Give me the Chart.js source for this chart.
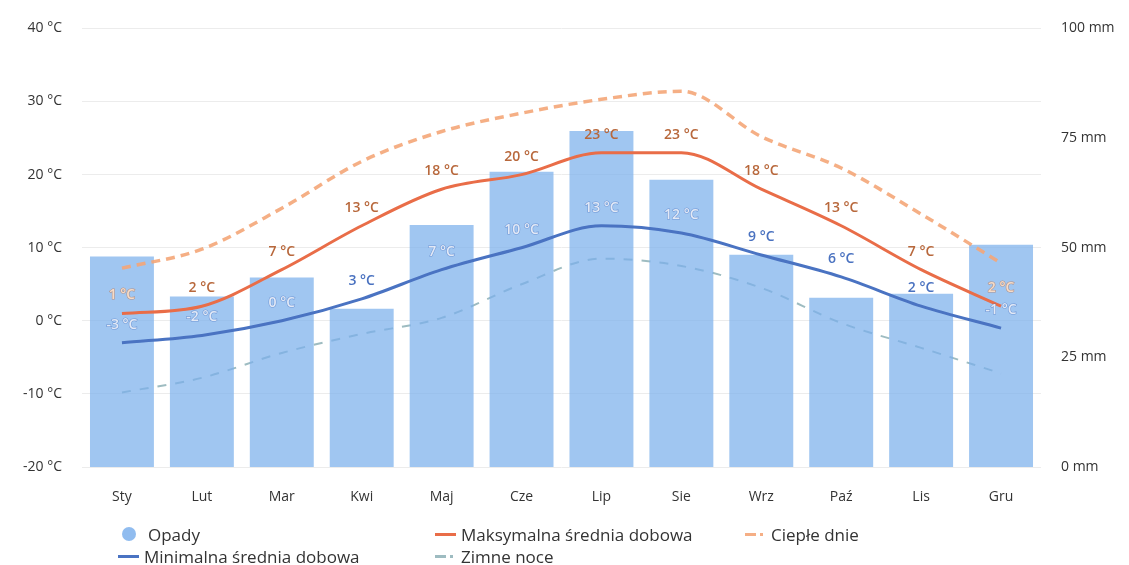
<!DOCTYPE html>
<html>
<head>
<meta charset="utf-8">
<script src="https://cdn.jsdelivr.net/npm/chart.js@4/dist/chart.umd.min.js"></script>
<style>
  html, body { margin: 0; padding: 0; background: #fff; }
  #wrap { position: relative; width: 1129px; height: 565px; }
  #chart { position: absolute; left: 0; top: 0; }
  #legend {
    position: absolute; left: 118px; top: 523px;
    display: grid; grid-template-columns: 317px 310px auto; grid-auto-rows: 22px;
    font-family: "Open Sans", sans-serif; font-size: 17px; color: #333;
  }
  .item { display: flex; align-items: center; white-space: nowrap; }
  .icon { display: inline-block; width: 21px; margin-right: 5px; }
</style>
</head>
<body>
<div id="wrap">
  <canvas id="chart" width="1129" height="565"></canvas>
  <div id="legend"></div>
</div>
<script>
// data
const months = ["Sty", "Lut", "Mar", "Kwi", "Maj", "Cze", "Lip", "Sie", "Wrz", "Paź", "Lis", "Gru"];
const opady = [48, 38.9, 43.2, 36.1, 55.2, 67.3, 76.6, 65.5, 48.4, 38.6, 39.5, 50.7];
const maxTemp = [1, 2, 7, 13, 18, 20, 23, 23, 18, 13, 7, 2];
const minTemp = [-3, -2, 0, 3, 7, 10, 13, 12, 9, 6, 2, -1];
const ciepleDnie = [7.2, 9.8, 15.4, 21.8, 25.9, 28.4, 30.3, 31.4, 25.2, 20.9, 14.6, 7.9];
const zimneNoce = [-9.8, -7.8, -4.4, -1.8, 0.4, 5.0, 8.5, 7.5, 4.5, -0.3, -3.7, -7.2];

const barColor = "rgba(124,176,236,0.72)";
const maxColor = "#e96d48";
const minColor = "#4a73c2";
const warmColor = "rgba(244,166,120,0.9)";
const coldColor = "rgba(125,165,172,0.75)";

// temperature labels above the two solid lines
const pointLabels = {
  id: "pointLabels",
  afterDatasetsDraw(chart) {
    const ctx = chart.ctx;
    const bars = chart.getDatasetMeta(0).data;
    ctx.save();
    ctx.font = "600 14px 'Open Sans', sans-serif";
    ctx.textAlign = "center";
    ctx.textBaseline = "middle";
    [[1, "#b8683c", "#f6dcc8"], [2, "#4a72c0", "#e2e9f6"]].forEach(([idx, color, light]) => {
      const meta = chart.getDatasetMeta(idx);
      const values = chart.data.datasets[idx].data;
      meta.data.forEach((pt, i) => {
        const x = pt.x;
        const y = pt.y - 18;
        const text = Math.round(values[i]) + " °C";
        const bar = bars[i];
        const inside = Math.abs(x - bar.x) < bar.width / 2 && y - 5 > bar.y;
        if (inside) {
          ctx.lineWidth = 1.2;
          ctx.strokeStyle = color;
          ctx.globalAlpha = 0.55;
          ctx.strokeText(text, x, y);
          ctx.globalAlpha = 1;
          ctx.fillStyle = light;
        } else {
          ctx.fillStyle = color;
        }
        ctx.fillText(text, x, y);
      });
    });
    ctx.restore();
  }
};

new Chart(document.getElementById("chart").getContext("2d"), {
  data: {
    labels: months,
    datasets: [
      {
        type: "bar",
        label: "Opady",
        data: opady,
        yAxisID: "rain",
        backgroundColor: barColor,
        categoryPercentage: 0.8,
        barPercentage: 1,
        order: 5,
      },
      {
        type: "line",
        label: "Maksymalna średnia dobowa",
        data: maxTemp,
        yAxisID: "temp",
        borderColor: maxColor,
        borderWidth: 3,
        pointRadius: 0,
        cubicInterpolationMode: "monotone",
        order: 1,
      },
      {
        type: "line",
        label: "Minimalna średnia dobowa",
        data: minTemp,
        yAxisID: "temp",
        borderColor: minColor,
        borderWidth: 3,
        pointRadius: 0,
        cubicInterpolationMode: "monotone",
        order: 2,
      },
      {
        type: "line",
        label: "Ciepłe dnie",
        data: ciepleDnie,
        yAxisID: "temp",
        borderColor: warmColor,
        borderWidth: 3.5,
        borderDash: [9, 6],
        pointRadius: 0,
        cubicInterpolationMode: "monotone",
        order: 3,
      },
      {
        type: "line",
        label: "Zimne noce",
        data: zimneNoce,
        yAxisID: "temp",
        borderColor: coldColor,
        borderWidth: 2,
        borderDash: [9, 9],
        pointRadius: 0,
        cubicInterpolationMode: "monotone",
        order: 6,
      },
    ],
  },
  options: {
    responsive: false,
    animation: false,
    layout: { padding: { top: 27, bottom: 58, left: 0, right: 0 } },
    plugins: {
      legend: { display: false },
      tooltip: { enabled: false },
    },
    scales: {
      x: {
        grid: { display: false },
        border: { display: false },
        ticks: { color: "#333", font: { family: "Open Sans", size: 14 }, padding: 14 },
        afterFit: (scale) => { scale.height = 40; },
      },
      temp: {
        position: "left",
        min: -20,
        max: 40,
        ticks: {
          stepSize: 10,
          padding: 20,
          color: "#333",
          font: { family: "Open Sans", size: 14 },
          callback: (v) => v + " °C",
        },
        grid: { color: "#ececec", drawTicks: false },
        border: { display: false },
        afterFit: (scale) => { scale.width = 82; },
      },
      rain: {
        position: "right",
        min: 0,
        max: 100,
        ticks: {
          stepSize: 25,
          padding: 20,
          color: "#333",
          font: { family: "Open Sans", size: 14 },
          callback: (v) => v + " mm",
        },
        grid: { display: false, drawTicks: false },
        border: { display: false },
        afterFit: (scale) => { scale.width = 88; },
      },
    },
  },
  plugins: [pointLabels],
});

// legend in three columns, like the original
const legendItems = [
  { text: "Opady", kind: "dot", color: "rgba(124,176,236,0.85)" },
  { text: "Maksymalna średnia dobowa", kind: "line", color: maxColor },
  { text: "Ciepłe dnie", kind: "dash", color: warmColor },
  { text: "Minimalna średnia dobowa", kind: "line", color: minColor },
  { text: "Zimne noce", kind: "dash", color: coldColor },
];
const legend = document.getElementById("legend");
legendItems.forEach((it) => {
  const div = document.createElement("div");
  div.className = "item";
  const icon = document.createElement("span");
  icon.className = "icon";
  if (it.kind === "dot") {
    icon.style.cssText = "width:14px;height:14px;border-radius:7px;margin:0 12px 0 4px;background:" + it.color;
  } else if (it.kind === "line") {
    icon.style.height = "3px";
    icon.style.background = it.color;
  } else {
    icon.style.height = "3px";
    icon.style.background = "linear-gradient(to right," + it.color + " 0 11px, transparent 11px 15px," + it.color + " 15px 18px, transparent 18px)";
  }
  div.appendChild(icon);
  div.appendChild(document.createTextNode(it.text));
  legend.appendChild(div);
});
</script>
</body>
</html>
